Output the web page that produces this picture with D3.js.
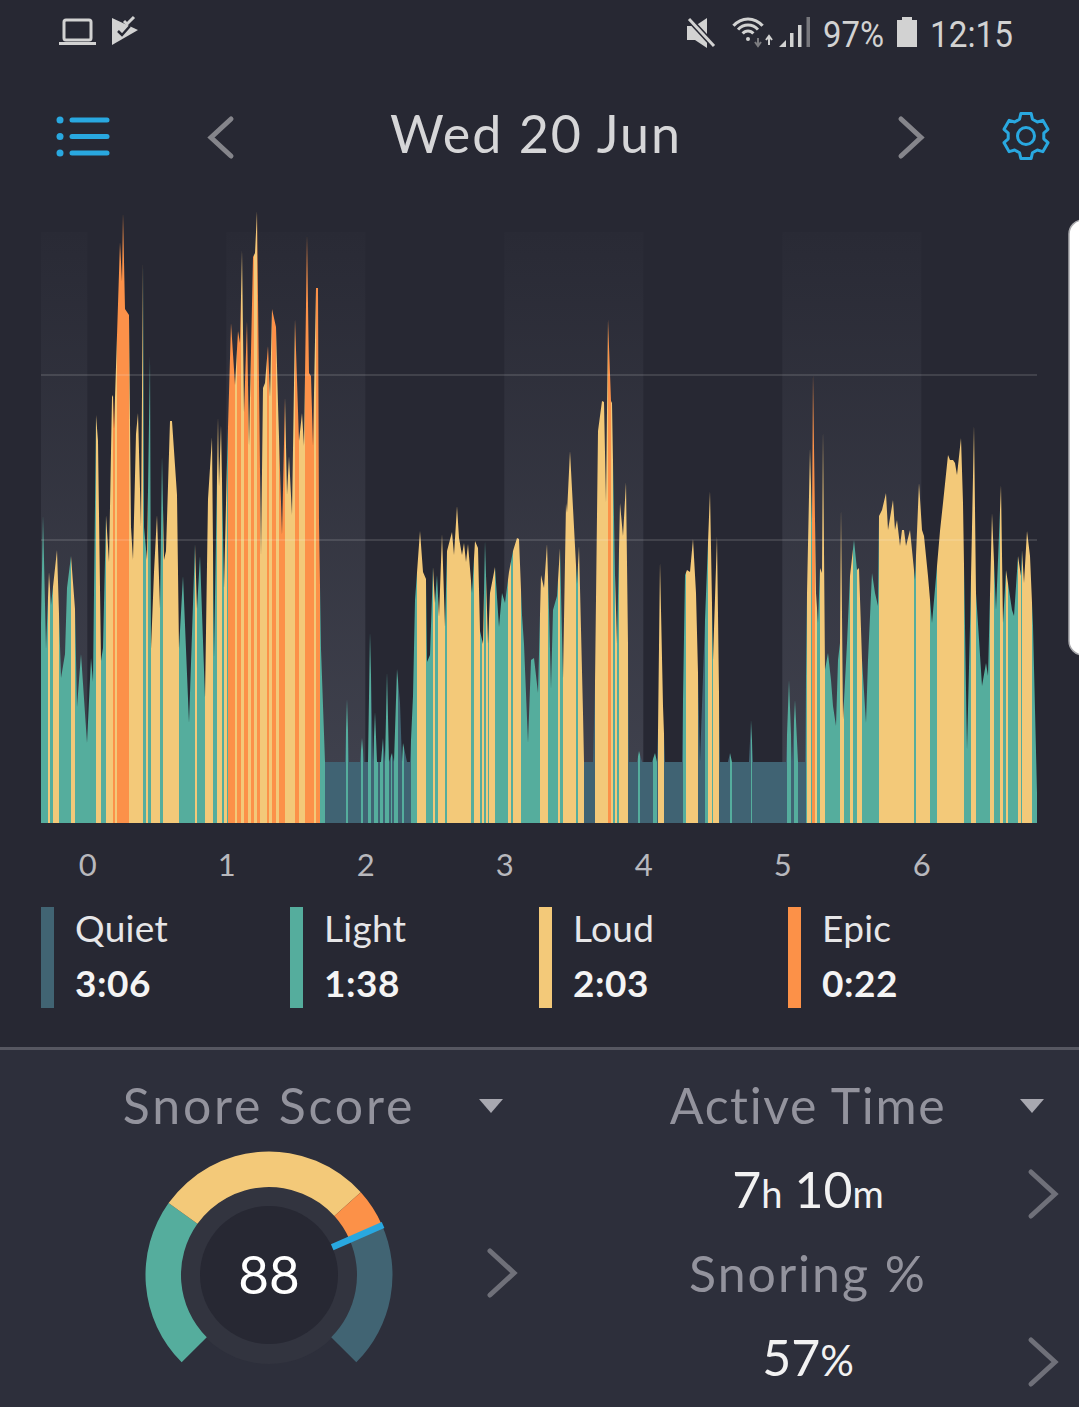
<!DOCTYPE html>
<html>
<head>
<meta charset="utf-8">
<script src="https://cdn.jsdelivr.net/npm/d3@7"></script>
<style>
  html, body { margin: 0; padding: 0; background: #272833; overflow: hidden; }
  svg { display: block; font-family: Lato, "Open Sans", sans-serif; }
</style>
</head>
<body>
<div id="chart"></div>
<script>
// levels
var levelNames = ["Quiet", "Light", "Loud", "Epic"];
var levelTimes = ["3:06", "1:38", "2:03", "0:22"];
var levelColors = ["#416473", "#55ad9d", "#f3c979", "#fc9148"];

// one sample is about 26 s, hour 0 falls near sample 46, an hour is 139 samples
var sampleCount = 996;
var hourZero = 46.3;
var samplesPerHour = 139;
var hourTicks = [0, 1, 2, 3, 4, 5, 6];
var shadedHours = [[-0.333, 0], [1, 2], [3, 4], [5, 6]];

// loudness axis, arbitrary units
var loudnessMax = 613;
var gridValues = [283, 448];
var bandTop = 591;

// outline of the recording: sample number and loudness
var outlineSample = [
  0, 2, 5, 8, 10, 16, 20, 24, 26, 30, 34, 36, 40, 46, 50, 52, 55, 57, 60, 62, 65, 68, 71, 72, 73,
  79, 81, 82, 84, 88, 90, 92, 95, 97, 100, 102, 103, 106, 109, 110, 113, 116, 119, 121, 123, 125,
  129, 131, 136, 138, 142, 148, 154, 156, 159, 164, 167, 171, 173, 177, 178, 180, 183, 186, 190,
  194, 197, 199, 201, 203, 206, 208, 212, 214, 216, 220, 222, 224, 227, 229, 231, 235, 237, 241,
  244, 246, 248, 251, 254, 258, 261, 263, 266, 268, 270, 272, 275, 277, 278, 280, 284, 304, 306,
  308, 319, 321, 323, 327, 329, 332, 334, 336, 340, 342, 344, 346, 348, 351, 353, 356, 359, 361,
  362, 366, 369, 372, 374, 379, 382, 385, 386, 389, 392, 394, 396, 398, 401, 404, 406, 411, 413,
  416, 418, 421, 423, 425, 427, 431, 434, 437, 439, 442, 444, 447, 449, 454, 458, 461, 464, 468,
  472, 476, 478, 481, 483, 487, 490, 493, 497, 500, 503, 506, 508, 510, 512, 516, 519, 522, 525,
  526, 529, 536, 538, 542, 543, 552, 554, 557, 561, 563, 565, 567, 570, 571, 574, 576, 579, 582,
  585, 587, 588, 596, 598, 601, 611, 614, 616, 617, 619, 622, 624, 641, 644, 646, 649, 652, 655,
  657, 659, 664, 669, 672, 676, 678, 679, 687, 689, 691, 708, 710, 712, 745, 748, 751, 754, 757,
  764, 766, 769, 771, 772, 775, 777, 779, 781, 782, 784, 787, 790, 792, 795, 797, 799, 800, 802, 806,
  809, 813, 816, 818, 821, 825, 827, 831, 834, 837, 838, 841, 845, 847, 852, 854, 856, 859, 861,
  863, 865, 869, 874, 878, 881, 883, 887, 891, 896, 899, 902, 907, 909, 912, 914, 916, 920, 922,
  926, 929, 931, 933, 935, 941, 945, 947, 951, 955, 960, 962, 965, 968, 971, 973, 977, 980, 981,
  983, 986, 989, 992, 996
];
var outlineLoudness = [
  200, 308, 174, 251, 218, 273, 145, 169, 235, 267, 214, 116, 169, 80, 165, 141, 408, 382, 162, 175, 308, 261, 426, 428, 394,
  581, 541, 610, 514, 508, 296, 263, 389, 410, 296, 563, 296, 263, 468, 174, 251, 308, 214, 367, 263, 272,
  402, 402, 328, 174, 247, 100, 279, 214, 267, 125, 324, 386, 165, 406, 336, 398, 235, 361, 500,
  438, 492, 480, 573, 410, 502, 377, 566, 570, 612, 267, 435, 440, 477, 426, 514, 496, 419, 288,
  426, 328, 367, 308, 504, 382, 410, 377, 588, 450, 447, 377, 535, 535, 300, 174, 61, 61, 124,
  61, 61, 85, 61, 61, 191, 61, 111, 61, 61, 85, 61, 151, 61, 70, 61, 154, 120, 61,
  80, 61, 61, 127, 223, 292, 251, 244, 161, 168, 256, 220, 248, 206, 289, 196, 272, 291, 268,
  317, 285, 268, 280, 261, 279, 230, 282, 275, 192, 179, 282, 179, 230, 256, 196, 230, 220, 251,
  272, 285, 284, 208, 179, 80, 163, 165, 130, 248, 235, 279, 213, 134, 213, 227, 275, 144, 320,
  310, 372, 239, 277, 110, 61, 61, 140, 392, 422, 421, 320, 504, 422, 420, 248, 179, 320, 287,
  341, 179, 61, 61, 72, 61, 61, 70, 61, 92, 261, 117, 61, 61, 248, 253, 251, 284, 230,
  150, 61, 203, 332, 163, 287, 130, 61, 61, 70, 61, 61, 103, 61, 61, 143, 61, 123, 61,
  61, 230, 375, 300, 450, 230, 200, 255, 250, 393, 153, 170, 143, 117, 97, 163, 180, 315, 103, 180,
  247, 283, 253, 255, 163, 100, 163, 250, 230, 217, 307, 313, 330, 293, 323, 293, 303, 277, 293,
  293, 277, 293, 243, 340, 293, 287, 247, 200, 257, 292, 320, 368, 363, 363, 360, 348, 385, 320,
  73, 197, 295, 398, 230, 137, 160, 147, 310, 213, 338, 200, 253, 233, 213, 207, 267, 247, 273,
  240, 292, 267, 197, 30
];

// colour runs under the outline: first sample of the run and its level
var runStart = [
  0, 7, 9, 12, 18, 30, 34, 55, 60, 65, 72, 74, 76, 88, 102, 105, 107, 110, 119, 122, 138, 154, 156,
  164, 172, 176, 181, 183, 186, 187, 194, 196, 200, 203, 207, 210, 213, 216, 219, 226, 228, 231,
  235, 238, 244, 254, 258, 264, 273, 275, 279, 284, 305, 307, 320, 322, 327, 330, 333, 337, 339,
  342, 344, 348, 350, 351, 353, 357, 361, 363, 370, 376, 385, 392, 394, 397, 404, 406, 430, 433,
  439, 441, 443, 445, 447, 448, 454, 467, 470, 472, 480, 499, 507, 517, 519, 522, 535, 537, 543,
  554, 567, 570, 572, 574, 576, 578, 587, 597, 599, 612, 616, 617, 623, 642, 645, 657, 664, 667,
  671, 672, 678, 689, 691, 710, 711, 746, 750, 753, 757, 765, 766, 770, 771, 774, 776, 779, 784,
  799, 803, 809, 812, 816, 821, 838, 873, 875, 889, 896, 923, 930, 935, 949, 953, 959, 962, 965,
  967, 977, 980, 981, 991
];
var runLevel = [
  1, 2, 1, 2, 1, 2, 1, 2, 1, 2, 3, 2, 3, 2, 1, 2, 1, 2, 1, 2, 1, 2, 1,
  2, 1, 2, 1, 2, 1, 3, 2, 3, 2, 3, 2, 3, 2, 3, 2, 3, 2, 3,
  2, 3, 2, 3, 2, 3, 2, 3, 1, 0, 1, 0, 1, 0, 1, 0, 1, 0, 1,
  0, 1, 0, 1, 0, 1, 0, 1, 0, 1, 2, 1, 2, 1, 2, 1, 2, 1, 2,
  1, 2, 1, 2, 1, 2, 1, 2, 1, 2, 1, 2, 1, 2, 1, 2, 1, 2, 0,
  2, 3, 2, 1, 2, 1, 2, 0, 1, 0, 1, 0, 2, 0, 1, 2, 0, 1, 2,
  1, 2, 0, 1, 0, 1, 0, 1, 0, 1, 0, 1, 2, 1, 3, 2, 1, 2, 1,
  2, 1, 2, 1, 2, 1, 2, 1, 2, 1, 2, 1, 2, 1, 2, 1, 2, 1, 2,
  1, 2, 1, 2, 1
];

// gauge: degrees of each zone in drawing order and the needle position
var gaugeLevels = [1, 2, 3, 0];
var gaugeSpans = [80.6, 102.4, 18, 69];
var gaugeScore = 88;
var gaugeScoreMax = 118;

var blue = "#29a8e0";
var greyText = "#93939d";
var width = 1079, height = 1407;

var svg = d3.select("#chart").append("svg").attr("width", width).attr("height", height);

svg.append("rect").attr("width", width).attr("height", height).attr("fill", "#272833");

var x = d3.scaleLinear().domain([0, sampleCount]).range([41, 1037]);
var y = d3.scaleLinear().domain([0, loudnessMax]).range([823, 210]);
var hourToSample = function(h) { return hourZero + h * samplesPerHour; };

var defs = svg.append("defs");
var bandFill = defs.append("linearGradient").attr("id", "bandFill")
  .attr("x1", 0).attr("y1", 0).attr("x2", 0).attr("y2", 1);
bandFill.append("stop").attr("offset", 0).attr("stop-color", "#292a35");
bandFill.append("stop").attr("offset", 1).attr("stop-color", "#41434f");

defs.append("filter").attr("id", "soft")
  .attr("filterUnits", "userSpaceOnUse").attr("x", 0).attr("y", 0).attr("width", width).attr("height", height)
  .append("feGaussianBlur").attr("stdDeviation", 0.5);

// shaded hours
svg.append("g").selectAll("rect").data(shadedHours).join("rect")
  .attr("x", function(d) { return x(hourToSample(d[0])); })
  .attr("width", function(d) { return x(hourToSample(d[1])) - x(hourToSample(d[0])); })
  .attr("y", y(bandTop))
  .attr("height", y(0) - y(bandTop))
  .attr("fill", "url(#bandFill)");

// the outline clips the colour runs
var outline = d3.area()
  .x(function(d) { return x(d[0]); })
  .y0(y(0))
  .y1(function(d) { return y(d[1]); })
  .curve(d3.curveLinear);

defs.append("clipPath").attr("id", "outlineClip")
  .append("path").attr("d", outline(d3.zip(outlineSample, outlineLoudness)));

svg.append("g").attr("filter", "url(#soft)")
  .append("g").attr("clip-path", "url(#outlineClip)")
  .selectAll("rect").data(runStart).join("rect")
  .attr("x", function(d) { return x(d); })
  .attr("width", function(d, i) {
    var next = i + 1 < runStart.length ? runStart[i + 1] : sampleCount;
    return x(next) - x(d);
  })
  .attr("y", y(loudnessMax))
  .attr("height", y(0) - y(loudnessMax))
  .attr("fill", function(d, i) { return levelColors[runLevel[i]]; });

// grid lines
svg.append("g").selectAll("line").data(gridValues).join("line")
  .attr("x1", x(0)).attr("x2", x(sampleCount))
  .attr("y1", function(d) { return y(d); })
  .attr("y2", function(d) { return y(d); })
  .attr("stroke", "#fff").attr("stroke-opacity", 0.12).attr("stroke-width", 2);

// hour axis
var axis = d3.axisBottom(x)
  .tickValues(hourTicks.map(hourToSample))
  .tickFormat(function(d) { return Math.round((d - hourZero) / samplesPerHour); })
  .tickSize(0).tickPadding(31);
var axisG = svg.append("g").attr("transform", "translate(0," + y(0) + ")").call(axis);
axisG.select(".domain").remove();
axisG.selectAll("text").attr("fill", "#b8b8bd").attr("font-size", 31).attr("font-family", "Lato");

// legend
var legendX = d3.scalePoint().domain(levelNames).range([41, 788]);
var legend = svg.append("g").selectAll("g").data(levelNames).join("g")
  .attr("transform", function(d) { return "translate(" + legendX(d) + ",907)"; });
legend.append("rect").attr("width", 13).attr("height", 101)
  .attr("fill", function(d, i) { return levelColors[i]; });
legend.append("text").attr("x", 34).attr("y", 35).attr("font-size", 37).attr("fill", "#e6e6e8")
  .attr("letter-spacing", 0.3)
  .text(function(d) { return d; });
legend.append("text").attr("x", 34).attr("y", 90).attr("font-size", 37).attr("font-weight", 700).attr("fill", "#f4f4f4")
  .attr("letter-spacing", 0.5)
  .text(function(d, i) { return levelTimes[i]; });

// lower panel
svg.append("rect").attr("y", 1049).attr("width", width).attr("height", height - 1049).attr("fill", "#2d2f3b");
svg.append("rect").attr("y", 1047).attr("width", width).attr("height", 3).attr("fill", "#565761");

function label(txt, cx, by, size, fill, spacing) {
  return svg.append("text").attr("x", cx).attr("y", by).attr("text-anchor", "middle")
    .attr("font-size", size).attr("fill", fill).attr("letter-spacing", spacing || 0).text(txt);
}
function chevron(x0, y0, dx, dy, col, w) {
  svg.append("path").attr("d", "M" + x0 + "," + y0 + "l" + dx + "," + dy + "l" + (-dx) + "," + dy)
    .attr("fill", "none").attr("stroke", col).attr("stroke-width", w).attr("stroke-linecap", "round");
}
function triangle(cx, cy) {
  svg.append("path").attr("d", "M" + (cx - 12) + "," + (cy - 7) + "h24l-12,14z").attr("fill", "#a8a8b0");
}

label("Snore Score", 269, 1124, 50, greyText, 2.8);
label("Active Time", 808, 1124, 50, greyText, 1.6);
label("Snoring %", 808, 1292, 50, greyText, 2);
triangle(491, 1106);
triangle(1032, 1106);

var active = label("7", 808, 1208, 50, "#f2f2f2");
active.append("tspan").attr("font-size", 38).text("h");
active.append("tspan").attr("dx", 12).text("10");
active.append("tspan").attr("font-size", 38).text("m");
var snoring = label("57", 808, 1376, 50, "#f2f2f2");
snoring.append("tspan").attr("font-size", 42).text("%");

chevron(1031, 1172, 24, 22, "#6f7079", 5);
chevron(1031, 1340, 24, 22, "#6f7079", 5);
chevron(490, 1251, 24, 22, "#6f7079", 5);

// gauge
var gauge = svg.append("g").attr("transform", "translate(269,1275)");
var deg = Math.PI / 180;
var pie = d3.pie().sort(null).startAngle(-135 * deg).endAngle(135 * deg);
var arc = d3.arc().innerRadius(88).outerRadius(123.5);
gauge.append("circle").attr("r", 89).attr("fill", "#32343f");
gauge.selectAll("path").data(pie(gaugeSpans)).join("path")
  .attr("d", arc)
  .attr("fill", function(d, i) { return levelColors[gaugeLevels[i]]; });
gauge.append("circle").attr("r", 69).attr("fill", "#272833");
var needleAngle = d3.scaleLinear().domain([0, gaugeScoreMax]).range([-135, 135]);
gauge.append("line")
  .attr("x1", 69).attr("x2", 124.5)
  .attr("transform", "rotate(" + (needleAngle(gaugeScore) - 90) + ")")
  .attr("stroke", blue).attr("stroke-width", 6.5);
gauge.append("text").attr("text-anchor", "middle").attr("y", 19).attr("font-size", 53).attr("fill", "#fff").text(gaugeScore);

// header
label("Wed 20 Jun", 536, 153, 52, "#d6d6d8", 2);
chevron(231, 119, -20, 18.5, "#85858b", 5);
chevron(901, 119, 20, 18.5, "#85858b", 5);

// menu icon
[120, 136.5, 153].forEach(function(my) {
  svg.append("circle").attr("cx", 60).attr("cy", my).attr("r", 3.5).attr("fill", blue);
  svg.append("line").attr("x1", 72).attr("x2", 107).attr("y1", my).attr("y2", my)
    .attr("stroke", blue).attr("stroke-width", 5).attr("stroke-linecap", "round");
});

// gear icon
var gearPts = [];
for (var t = 0; t < 6; t++) {
  var a0 = t * 60;
  gearPts.push([a0 - 13, 23], [a0 + 13, 23], [a0 + 21, 18], [a0 + 39, 18]);
}
var gear = svg.append("g").attr("transform", "translate(1026,136)").attr("fill", "none").attr("stroke", blue).attr("stroke-width", 3);
gear.append("path").attr("stroke-linejoin", "round")
  .attr("d", d3.lineRadial().angle(function(d) { return d[0] * deg; }).radius(function(d) { return d[1]; }).curve(d3.curveLinearClosed)(gearPts));
gear.append("circle").attr("r", 8.5);

// status bar
var iconGrey = "#d2d2d2";
svg.append("rect").attr("x", 64).attr("y", 20).attr("width", 27).attr("height", 20).attr("rx", 2)
  .attr("fill", "none").attr("stroke", iconGrey).attr("stroke-width", 3);
svg.append("rect").attr("x", 59).attr("y", 42).attr("width", 37).attr("height", 3).attr("fill", iconGrey);
svg.append("path").attr("d", "M112,18L138,30L112,45Z").attr("fill", iconGrey);
svg.append("path").attr("d", "M118,31l4,4l8,-9").attr("fill", "none").attr("stroke", "#272833").attr("stroke-width", 2.5);
svg.append("path").attr("d", "M124,21l3,3l7,-7").attr("fill", "none").attr("stroke", iconGrey).attr("stroke-width", 3);

svg.append("path").attr("d", "M687,26h8l12,-8v30l-12,-8h-8z").attr("fill", iconGrey);
svg.append("path").attr("d", "M689,19l25,27").attr("stroke", "#272833").attr("stroke-width", 6);
svg.append("path").attr("d", "M689,19l25,27").attr("stroke", iconGrey).attr("stroke-width", 3);

[19, 13, 7].forEach(function(r) {
  svg.append("path")
    .attr("d", d3.arc().innerRadius(r - 1.5).outerRadius(r + 1.5).startAngle(-50 * deg).endAngle(50 * deg)())
    .attr("transform", "translate(748,38)").attr("fill", iconGrey);
});
svg.append("circle").attr("cx", 748).attr("cy", 39).attr("r", 2).attr("fill", iconGrey);
svg.append("path").attr("d", "M758,38v7M755,42l3,4l3,-4").attr("stroke", "#7c7c80").attr("stroke-width", 2).attr("fill", "none");
svg.append("path").attr("d", "M769,45v-8M766,40l3,-4l3,4").attr("stroke", iconGrey).attr("stroke-width", 2).attr("fill", "none");
svg.append("path").attr("d", "M779,47l7,-7v7z").attr("fill", iconGrey);
svg.append("rect").attr("x", 790).attr("y", 33).attr("width", 3.5).attr("height", 14).attr("fill", iconGrey);
svg.append("rect").attr("x", 798).attr("y", 25).attr("width", 3.5).attr("height", 22).attr("fill", iconGrey);
svg.append("rect").attr("x", 806.5).attr("y", 17).attr("width", 3.5).attr("height", 30).attr("fill", "#77777c");

svg.append("path").attr("d", "M897,20h5v-3h10v3h5v27h-20z").attr("fill", iconGrey);

var statusText = svg.append("g").attr("font-family", "Roboto").attr("fill", iconGrey).attr("font-size", 37);
statusText.append("text").attr("x", 823).attr("y", 47).attr("textLength", 61).attr("lengthAdjust", "spacingAndGlyphs").text("97%");
statusText.append("text").attr("x", 930).attr("y", 47).attr("textLength", 83).attr("lengthAdjust", "spacingAndGlyphs").text("12:15");

// side handle on the right edge
svg.append("rect").attr("x", 1069).attr("y", 220).attr("width", 30).attr("height", 435).attr("rx", 14)
  .attr("fill", "#fff").attr("stroke", "#a9a9ad").attr("stroke-width", 1.5);
</script>
</body>
</html>
